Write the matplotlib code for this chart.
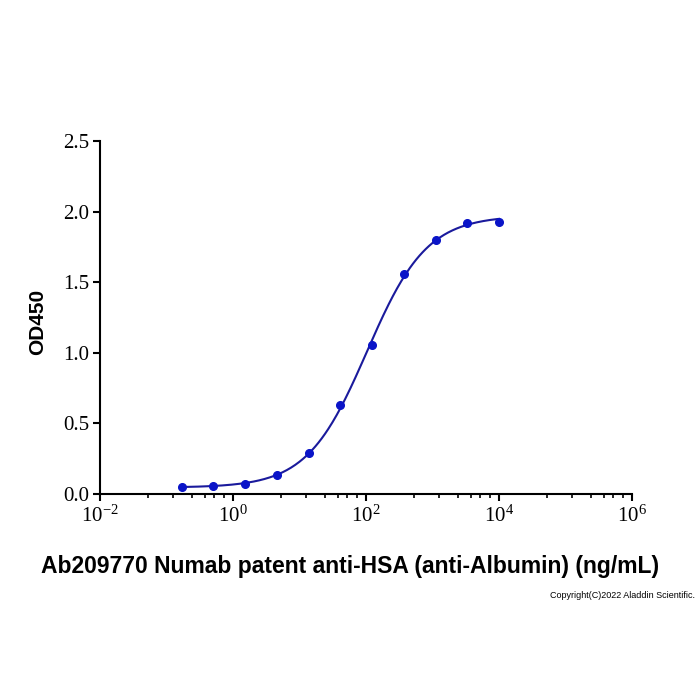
import numpy as np
import matplotlib
matplotlib.use("Agg")
import matplotlib.pyplot as plt
from matplotlib.ticker import FixedLocator, NullFormatter

# данные: концентрация (ng/mL) и OD450
conc = [0.169, 0.508, 1.52, 4.57, 13.7, 41.2, 123.5, 370.4, 1111, 3333, 10000]
od450 = [0.050, 0.057, 0.070, 0.135, 0.290, 0.630, 1.055, 1.560, 1.800, 1.920, 1.930]

x_label = 'Ab209770 Numab patent anti-HSA (anti-Albumin) (ng/mL)'
y_label = 'OD450'
y_ticks = [0.0, 0.5, 1.0, 1.5, 2.0, 2.5]
x_major_exp = [-2, 0, 2, 4, 6]

plt.rcParams['mathtext.fontset'] = 'custom'
plt.rcParams['mathtext.rm'] = 'Liberation Serif'


def four_pl(p, lx):
    bottom, top, log_ec50, hill = p
    return bottom + (top - bottom) / (1 + 10 ** ((log_ec50 - lx) * hill))


def fit_4pl(lx, y):
    # простой Гаусс-Ньютон
    p = np.array([min(y), max(y), np.median(lx), 1.0])
    for _ in range(200):
        r = y - four_pl(p, lx)
        J = np.zeros((len(lx), 4))
        for i in range(4):
            dp = np.zeros(4)
            dp[i] = 1e-6
            J[:, i] = (four_pl(p + dp, lx) - four_pl(p - dp, lx)) / 2e-6
        step = np.linalg.lstsq(J, r, rcond=None)[0]
        p = p + 0.5 * step
        if np.max(np.abs(step)) < 1e-10:
            break
    return p


lx = np.log10(np.array(conc))
y = np.array(od450)
params = fit_4pl(lx, y)
lx_fit = np.linspace(lx.min(), lx.max(), 300)
y_fit = four_pl(params, lx_fit)

fig = plt.figure(figsize=(7, 7), dpi=100)
ax = fig.add_axes([0.1429, 0.2943, 0.76, 0.504])

ax.plot(10 ** lx_fit, y_fit, color='#1a1a9c', lw=1.5, zorder=2)
ax.plot(conc, od450, 'o', color='#0a14c8', ms=5.5, zorder=3)

ax.set_xscale('log')
ax.set_xlim(1e-2, 1e6)
ax.set_ylim(0, 2.5)

for s in ['top', 'right']:
    ax.spines[s].set_visible(False)
for s in ['left', 'bottom']:
    ax.spines[s].set_linewidth(1.5)

ax.xaxis.set_major_locator(FixedLocator([10.0 ** e for e in x_major_exp]))
ax.set_xticklabels([r'$\mathregular{10^{%d}}$' % e for e in x_major_exp])
minor_frac = [0.36, 0.55, 0.69, 0.79, 0.86, 0.93]
minor = [10 ** (e + 2 * f) for e in x_major_exp[:-1] for f in minor_frac]
ax.xaxis.set_minor_locator(FixedLocator(minor))
ax.xaxis.set_minor_formatter(NullFormatter())

ax.set_yticks(y_ticks)
ax.set_yticklabels(['%.1f' % v for v in y_ticks])

ax.tick_params(axis='both', which='major', direction='out', length=5, width=1.5,
               labelsize=15, pad=3)
ax.tick_params(axis='x', which='minor', direction='out', length=3, width=1.2)
for lab in ax.get_yticklabels() + ax.get_xticklabels():
    lab.set_fontfamily('Liberation Serif')

fig.text(0.5, 1 - 566 / 700, x_label, ha='center', va='center',
         fontsize=16.5, fontweight='bold', family='Liberation Sans')
fig.text(38 / 700, 1 - 322 / 700, y_label, ha='center', va='center', rotation=90,
         fontsize=15, fontweight='bold', family='Liberation Sans')

fig.text(0.993, 0.150, 'Copyright(C)2022 Aladdin Scientific.', ha='right', va='center',
         fontsize=6.5, family='Liberation Sans')

fig.savefig('out.png', dpi=100, facecolor='white')
